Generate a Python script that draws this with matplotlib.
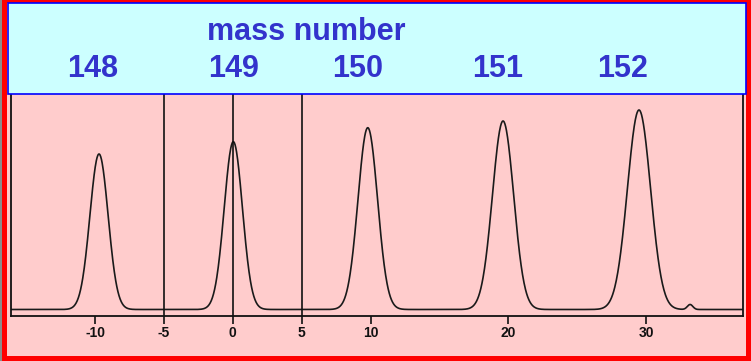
import numpy as np
import matplotlib
matplotlib.use("Agg")
import matplotlib.pyplot as plt
from matplotlib.patches import Rectangle

# peak positions, apex heights and widths of the mass scan (arbitrary units)
peak_centers = [-9.71, 0.04, 9.80, 19.62, 29.49, 33.2]
peak_heights = [155.5, 167.8, 181.8, 188.5, 199.5, 5.0]
peak_sigmas = [0.66, 0.66, 0.71, 0.77, 0.84, 0.2]
baseline = 6.5

mass_numbers = ["148", "149", "150", "151", "152"]
mass_label_x = [93, 234, 358, 498, 623]  # pixel centres in the header band
tick_values = [-10, -5, 0, 5, 10, 20, 30]
marker_lines = [-5, 0, 5]

W, H = 751, 361
fig = plt.figure(figsize=(W / 100, H / 100), dpi=100)
fig.patch.set_facecolor("#ff0000")

def fx(px):
    return px / W

def fy(py):
    return 1 - py / H

# gray strip on the far left and the pink panel (behind the axes)
fig.patches.append(Rectangle((0, 0), fx(2), 1, transform=fig.transFigure,
                             facecolor="#8c8c8c", edgecolor="none", zorder=-5))
fig.patches.append(Rectangle((fx(7), fy(356)), fx(746 - 7), (356 - 3) / H,
                             transform=fig.transFigure, facecolor="#ffcccc",
                             edgecolor="none", zorder=-5))

# spectrum axes
ax = fig.add_axes([fx(11), fy(316), fx(743 - 11), (316 - 94) / H])
ax.set_facecolor("#ffcccc")
x = np.linspace(-16.1, 37.04, 2000)
y = np.full_like(x, baseline)
for c, h, s in zip(peak_centers, peak_heights, peak_sigmas):
    y += h * np.exp(-0.5 * ((x - c) / s) ** 2)
ax.plot(x, y, color="#1a1a1a", lw=1.2)
for v in marker_lines:
    ax.axvline(v, color="#111111", lw=1.2)
ax.set_xlim(-16.1, 37.04)
ax.set_ylim(0, 222)
ax.set_yticks([])
ax.set_xticks(tick_values)
ax.set_xticklabels([str(t) for t in tick_values])
ax.tick_params(axis="x", direction="out", length=6, width=1.2, pad=1.5,
               labelsize=10, colors="#111111")
for lab in ax.get_xticklabels():
    lab.set_fontweight("bold")
    lab.set_family("Liberation Sans")
ax.spines["top"].set_visible(False)
for side in ["left", "bottom", "right"]:
    ax.spines[side].set_linewidth(1.3)
    ax.spines[side].set_color("#111111")

# header band with the mass numbers
fig.patches.append(Rectangle((fx(8), fy(94)), fx(746 - 8), (94 - 3) / H,
                             transform=fig.transFigure, facecolor="#ccffff",
                             edgecolor="#0000ff", lw=1.2, zorder=3))
txt = dict(color="#3333cc", fontweight="bold", family="Liberation Sans",
           ha="center", va="center", zorder=4)
fig.text(fx(306), fy(32), "mass number", fontsize=22, **txt)
for lab, px in zip(mass_numbers, mass_label_x):
    fig.text(fx(px), fy(69), lab, fontsize=22, **txt)

fig.savefig("out.png", dpi=100, facecolor=fig.get_facecolor())
